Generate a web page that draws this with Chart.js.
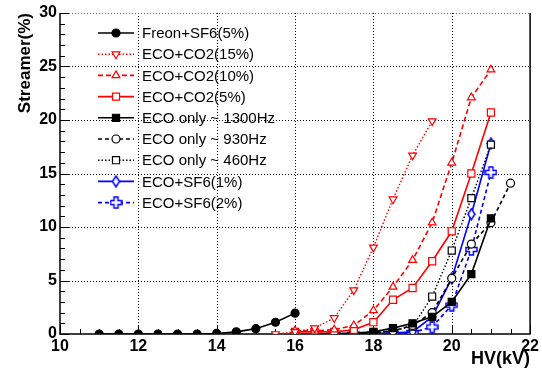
<!DOCTYPE html>
<html>
<head>
<meta charset="utf-8">
<script src="https://cdn.jsdelivr.net/npm/chart.js@4/dist/chart.umd.min.js"></script>
<style>
  html, body { margin: 0; padding: 0; background: #fff; }
  #wrap { width: 542px; height: 371px; }
</style>
</head>
<body>
<div id="wrap"><canvas id="streamerChart" width="542" height="371"></canvas></div>
<script>
// values
const hvFreon = [11, 11.5, 12, 12.5, 13, 13.5, 14, 14.5, 15, 15.5, 16];
const freonSf6 = [0, 0, 0, 0, 0, 0, 0.05, 0.2, 0.5, 1.1, 1.95];

const hvCo2_15 = [15.5, 16, 16.5, 17, 17.5, 18, 18.5, 19, 19.5];
const co2_15 = [0, 0.2, 0.55, 1.5, 4.1, 8.1, 12.6, 16.7, 19.9];

const hvCo2 = [16, 16.5, 17, 17.5, 18, 18.5, 19, 19.5, 20, 20.5, 21];
const co2_10 = [0.3, 0.3, 0.4, 0.8, 2.2, 4.4, 6.9, 10.4, 16.0, 22.1, 24.7];
const co2_5 = [0.2, 0.2, 0.2, 0.4, 1.1, 3.2, 4.3, 6.8, 9.6, 15.0, 20.7];

const hvEco1300 = [16.5, 17, 17.5, 18, 18.5, 19, 19.5, 20, 20.5, 21];
const eco1300 = [0, 0.05, 0.1, 0.2, 0.55, 1.0, 1.6, 3.0, 5.6, 10.8];

const hvEco930 = [17, 17.5, 18, 18.5, 19, 19.5, 20, 20.5, 21, 21.5];
const eco930 = [0, 0, 0.1, 0.3, 0.8, 2.0, 5.2, 8.4, 10.4, 14.1];

const hvEco460 = [17, 17.5, 18, 18.5, 19, 19.5, 20, 20.5, 21];
const eco460 = [0, 0, 0.1, 0.3, 0.7, 3.5, 7.8, 12.7, 17.7];

const hvSf6 = [17, 17.5, 18, 18.5, 19, 19.5, 20, 20.5, 21];
const sf6_1 = [0, 0, 0.05, 0.1, 0.2, 1.6, 5.2, 11.2, 17.8];
const sf6_2 = [0, 0, 0, 0.05, 0.15, 0.65, 2.7, 7.9, 15.1];

const xTicks = [10, 12, 14, 16, 18, 20, 22];
const yTicks = [0, 5, 10, 15, 20, 25, 30];

const FONT = "'Liberation Sans', Arial, Helvetica, sans-serif";

function pts(xs, ys) {
  return xs.map((x, i) => ({ x: x, y: ys[i] }));
}

// hollow plus marker
function plusMarker(color) {
  const c = document.createElement("canvas");
  c.width = 13; c.height = 13;
  const g = c.getContext("2d");
  const a = 1, b = 4.5, d = 8.5, e = 12;
  g.beginPath();
  g.moveTo(b, a); g.lineTo(d, a); g.lineTo(d, b); g.lineTo(e, b); g.lineTo(e, d);
  g.lineTo(d, d); g.lineTo(d, e); g.lineTo(b, e); g.lineTo(b, d); g.lineTo(a, d);
  g.lineTo(a, b); g.lineTo(b, b); g.closePath();
  g.fillStyle = "#fff"; g.fill();
  g.strokeStyle = color; g.lineWidth = 1.5; g.stroke();
  return c;
}

// thin diamond marker
function diamondMarker(color) {
  const c = document.createElement("canvas");
  c.width = 9; c.height = 13;
  const g = c.getContext("2d");
  g.beginPath();
  g.moveTo(4.5, 1); g.lineTo(8, 6.5); g.lineTo(4.5, 12); g.lineTo(1, 6.5); g.closePath();
  g.fillStyle = "#fff"; g.fill();
  g.strokeStyle = color; g.lineWidth = 1.5; g.stroke();
  return c;
}

function series(label, data, color, dash, style, opts) {
  return Object.assign({
    label: label,
    data: data,
    borderColor: color,
    backgroundColor: "#fff",
    pointBorderColor: color,
    pointBackgroundColor: "#fff",
    borderWidth: 1.6,
    borderDash: dash,
    pointStyle: style,
    pointRadius: 4.5,
    pointBorderWidth: 1.2,
    pointRotation: 0,
    tension: 0,
    fill: false
  }, opts || {});
}

const datasets = [
  series("Freon+SF6(5%)", pts(hvFreon, freonSf6), "#000", [], "circle",
    { pointBackgroundColor: "#000", pointRadius: 4 }),
  series("ECO+CO2(15%)", pts(hvCo2_15, co2_15), "#ff0000", [1.5, 2], "triangle",
    { pointRotation: 180, pointRadius: 4.5, borderWidth: 1.4 }),
  series("ECO+CO2(10%)", pts(hvCo2, co2_10), "#ff0000", [5, 3], "triangle",
    { pointRadius: 4.5 }),
  series("ECO+CO2(5%)", pts(hvCo2, co2_5), "#ff0000", [], "rect",
    { pointRadius: 5 }),
  series("ECO only ~ 1300Hz", pts(hvEco1300, eco1300), "#000", [], "rect",
    { pointBackgroundColor: "#000", pointRadius: 5 }),
  series("ECO only ~ 930Hz", pts(hvEco930, eco930), "#000", [4, 3], "circle",
    { pointRadius: 4 }),
  series("ECO only ~ 460Hz", pts(hvEco460, eco460), "#000", [1.5, 2], "rect",
    { pointRadius: 5, borderWidth: 1.4 }),
  series("ECO+SF6(1%)", pts(hvSf6, sf6_1), "#0000ff", [], diamondMarker("#0000ff")),
  series("ECO+SF6(2%)", pts(hvSf6, sf6_2), "#0000ff", [4, 3], plusMarker("#0000ff"))
];

// frame, dotted grid, inner ticks, axis titles, legend
const frame = {
  id: "frame",
  beforeDatasetsDraw(chart) {
    const { ctx, chartArea: a, scales: { x, y } } = chart;
    ctx.save();
    ctx.strokeStyle = "#000";
    ctx.lineWidth = 1;
    ctx.setLineDash([1, 2]);
    xTicks.slice(1, -1).forEach(v => {
      const px = Math.round(x.getPixelForValue(v)) + 0.5;
      ctx.beginPath(); ctx.moveTo(px, a.top); ctx.lineTo(px, a.bottom); ctx.stroke();
    });
    yTicks.slice(1).forEach(v => {
      const py = Math.round(y.getPixelForValue(v)) + 0.5;
      ctx.strokeStyle = v === 30 ? "#666" : "#000";
      ctx.beginPath(); ctx.moveTo(a.left, py); ctx.lineTo(a.right, py); ctx.stroke();
    });
    ctx.setLineDash([]);
    ctx.strokeStyle = "#000";
    // minor/major ticks
    for (let v = 0; v <= 30; v++) {
      const py = Math.round(y.getPixelForValue(v)) + 0.5;
      const len = v % 5 === 0 ? 9 : 5;
      ctx.beginPath(); ctx.moveTo(a.left, py); ctx.lineTo(a.left + len, py); ctx.stroke();
    }
    for (let v = 10; v <= 22; v += 0.5) {
      const px = Math.round(x.getPixelForValue(v)) + 0.5;
      const len = v % 2 === 0 ? 9 : 5;
      ctx.beginPath(); ctx.moveTo(px, a.bottom); ctx.lineTo(px, a.bottom - len); ctx.stroke();
    }
    // axes lines
    ctx.lineWidth = 1.5;
    ctx.beginPath();
    ctx.moveTo(a.left, a.top); ctx.lineTo(a.left, a.bottom); ctx.lineTo(a.right, a.bottom);
    ctx.lineTo(a.right, a.top);
    ctx.stroke();
    ctx.restore();
  },
  afterDraw(chart) {
    const { ctx, chartArea: a } = chart;
    ctx.save();
    ctx.fillStyle = "#000";
    ctx.font = "bold 17px " + FONT;
    ctx.translate(25, a.top);
    ctx.rotate(-Math.PI / 2);
    ctx.textAlign = "right";
    ctx.textBaseline = "middle";
    ctx.fillText("Streamer(%)", 0, 0);
    ctx.restore();

    ctx.save();
    ctx.fillStyle = "#000";
    ctx.font = "bold 18px " + FONT;
    ctx.textAlign = "right";
    ctx.textBaseline = "alphabetic";
    ctx.fillText("HV(kV)", a.right, 364);
    ctx.restore();

    // legend: line + marker + label
    ctx.save();
    chart.data.datasets.forEach((ds, i) => {
      const ly = 33 + i * 21.2;
      ctx.strokeStyle = ds.borderColor;
      ctx.lineWidth = ds.borderWidth;
      ctx.setLineDash(ds.borderDash);
      ctx.beginPath(); ctx.moveTo(98, ly); ctx.lineTo(134, ly); ctx.stroke();
      ctx.setLineDash([]);
      ctx.fillStyle = ds.pointBackgroundColor;
      ctx.strokeStyle = ds.pointBorderColor;
      ctx.lineWidth = ds.pointBorderWidth;
      Chart.helpers.drawPoint(ctx, {
        pointStyle: ds.pointStyle,
        radius: ds.pointRadius,
        rotation: ds.pointRotation,
        borderWidth: ds.pointBorderWidth
      }, 116, ly);
      ctx.fillStyle = "#000";
      ctx.font = "15px " + FONT;
      ctx.textAlign = "left";
      ctx.textBaseline = "middle";
      ctx.fillText(ds.label, 142, ly + 1);
    });
    ctx.restore();
  }
};

new Chart(document.getElementById("streamerChart").getContext("2d"), {
  type: "line",
  data: { datasets: datasets },
  options: {
    responsive: false,
    animation: false,
    events: [],
    layout: { padding: { top: 13, right: 9, left: 0, bottom: 0 } },
    plugins: { legend: { display: false }, tooltip: { enabled: false } },
    scales: {
      x: {
        type: "linear",
        min: 10,
        max: 22,
        afterFit: s => { s.height = 37; },
        afterBuildTicks: s => { s.ticks = xTicks.map(v => ({ value: v })); },
        grid: { display: false, drawTicks: false },
        border: { display: false },
        ticks: { padding: 3, color: "#000", font: { family: FONT, size: 16, weight: "bold" } }
      },
      y: {
        type: "linear",
        min: 0,
        max: 30,
        afterFit: s => { s.width = 60; },
        afterBuildTicks: s => { s.ticks = yTicks.map(v => ({ value: v })); },
        grid: { display: false, drawTicks: false },
        border: { display: false },
        ticks: { padding: 3, color: "#000", font: { family: FONT, size: 16, weight: "bold" } }
      }
    }
  },
  plugins: [frame]
});
</script>
</body>
</html>
